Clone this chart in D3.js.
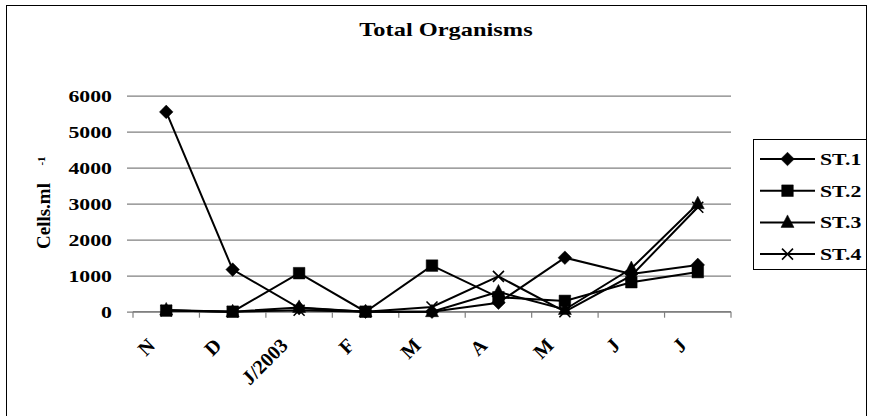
<!DOCTYPE html>
<html>
<head>
<meta charset="utf-8">
<script src="https://cdn.jsdelivr.net/npm/d3@7"></script>
<style>
  html, body { margin: 0; padding: 0; background: #fff; }
  svg { display: block; }
  svg text { font-family: "Liberation Serif", "Times New Roman", Times, serif !important; font-weight: bold; fill: #000; }
</style>
</head>
<body>
<svg id="chart" width="872" height="416" font-family="Liberation Serif"></svg>
<script>
// Monthly sampling, Nov 2002 – Jul 2003
const categories = ["N", "D", "J/2003", "F", "M", "A", "M", "J", "J"];
const yTicks = [0, 1000, 2000, 3000, 4000, 5000, 6000];
const seriesNames = ["ST.1", "ST.2", "ST.3", "ST.4"];
const st1 = [5550, 1170, 100, 0, 0, 250, 1500, 1050, 1300];
const st2 = [30, 0, 1070, 0, 1280, 400, 300, 820, 1100];
const st3 = [50, 0, 120, 0, 0, 550, 60, 1200, 3000];
const st4 = [30, 0, 40, 0, 130, 980, 0, 1000, 2900];

const series = [
  { name: seriesNames[0], values: st1, marker: "diamond" },
  { name: seriesNames[1], values: st2, marker: "square" },
  { name: seriesNames[2], values: st3, marker: "triangle" },
  { name: seriesNames[3], values: st4, marker: "cross" }
];

const FONT = "Liberation Serif";
const svg = d3.select("#chart");
const plot = { left: 133, top: 95.7, right: 731, bottom: 311.7 };
const plotW = plot.right - plot.left, plotH = plot.bottom - plot.top;
const stretch = 1.32;  // horizontally widened lettering

// outer frame (bottom edge runs past the canvas)
svg.append("rect")
  .attr("x", 6.5).attr("y", 5.5)
  .attr("width", 860).attr("height", 420)
  .attr("fill", "#fff").attr("stroke", "#000").attr("stroke-width", 1);

// title
svg.append("text")
  .attr("font-family", FONT)
  .attr("transform", `translate(446,36) scale(${stretch},1)`)
  .attr("text-anchor", "middle")
  .attr("font-size", 18.5)
  .text("Total Organisms");

const g = svg.append("g").attr("transform", `translate(${plot.left},${plot.top})`);

const x = d3.scaleBand().domain(d3.range(categories.length)).range([0, plotW]).paddingInner(0).paddingOuter(0);
const y = d3.scaleLinear().domain([0, 6000]).range([plotH, 0]);
const cx = i => x(i) + x.bandwidth() / 2;

// y axis: gridlines and labels
const yAxis = g.append("g").call(
  d3.axisLeft(y).tickValues(yTicks).tickSizeInner(6).tickSizeOuter(0).tickPadding(0).tickFormat(d3.format("d"))
);
yAxis.attr("font-family", FONT);
yAxis.select(".domain").remove();
yAxis.selectAll(".tick line")
  .attr("x1", -6).attr("x2", plotW)
  .attr("stroke", "#808080").attr("stroke-width", 1.2);
yAxis.selectAll(".tick text")
  .attr("x", null).attr("dy", null)
  .attr("text-anchor", "end")
  .attr("font-family", FONT)
  .attr("font-size", 16.5)
  .attr("transform", `translate(-21,5.8) scale(${stretch},1)`);

// x axis: baseline, boundary ticks, rotated labels
g.append("line")
  .attr("x1", 0).attr("x2", plotW).attr("y1", plotH).attr("y2", plotH)
  .attr("stroke", "#808080").attr("stroke-width", 1.2);
g.selectAll(".xtick")
  .data(d3.range(categories.length + 1))
  .join("line")
  .attr("class", "xtick")
  .attr("x1", i => i * x.step()).attr("x2", i => i * x.step())
  .attr("y1", plotH).attr("y2", plotH + 6)
  .attr("stroke", "#808080").attr("stroke-width", 1.2);
g.selectAll(".xlabel")
  .data(categories)
  .join("text")
  .attr("class", "xlabel")
  .attr("font-family", FONT)
  .attr("text-anchor", "end")
  .attr("font-size", 20)
  .attr("transform", (d, i) => `translate(${cx(i) - 10},${plotH + 35}) rotate(-45)`)
  .text(d => d);

// y axis title with superscript
svg.append("text")
  .attr("font-family", FONT)
  .attr("transform", "translate(50,216) rotate(-90)")
  .attr("text-anchor", "middle")
  .attr("font-size", 19)
  .text("Cells.ml");
svg.append("text")
  .attr("font-family", FONT)
  .attr("transform", "translate(45,161) rotate(-90)")
  .attr("text-anchor", "middle")
  .attr("font-size", 11)
  .text("-1");

// marker shapes
function markerPath(type) {
  if (type === "diamond") return "M0,-6.8L6.8,0L0,6.8L-6.8,0Z";
  if (type === "square") return "M-5.8,-5.8H5.8V5.8H-5.8Z";
  if (type === "triangle") return "M0,-7.5L6.5,5L-6.5,5Z";
  return "M-5.5,-5.5L5.5,5.5M5.5,-5.5L-5.5,5.5";
}
function drawMarker(sel, type) {
  sel.append("path")
    .attr("d", markerPath(type))
    .attr("fill", type === "cross" ? "none" : "#000")
    .attr("stroke", "#000")
    .attr("stroke-width", type === "cross" ? 1.6 : 0.5);
}

const line = d3.line().x((d, i) => cx(i)).y(d => y(d));

series.forEach(s => {
  g.append("path")
    .datum(s.values)
    .attr("d", line)
    .attr("fill", "none")
    .attr("stroke", "#000")
    .attr("stroke-width", 2);
});
series.forEach(s => {
  s.values.forEach((v, i) => {
    const m = g.append("g").attr("transform", `translate(${cx(i)},${y(v)})`);
    drawMarker(m, s.marker);
  });
});

// legend
const legend = svg.append("g").attr("transform", "translate(753,139.5)");
legend.append("rect")
  .attr("x", 0.5).attr("y", 0)
  .attr("width", 113).attr("height", 130)
  .attr("fill", "#fff").attr("stroke", "#000").attr("stroke-width", 1);
series.forEach((s, i) => {
  const row = legend.append("g").attr("transform", `translate(0,${19.5 + i * 31.7})`);
  row.append("line")
    .attr("x1", 7).attr("x2", 62).attr("y1", 0).attr("y2", 0)
    .attr("stroke", "#000").attr("stroke-width", 2);
  drawMarker(row.append("g").attr("transform", "translate(34.5,0)"), s.marker);
  row.append("text")
    .attr("font-family", FONT)
    .attr("transform", `translate(67,5.8) scale(${stretch},1)`)
    .attr("font-size", 16.5)
    .text(s.name);
});
</script>
</body>
</html>
